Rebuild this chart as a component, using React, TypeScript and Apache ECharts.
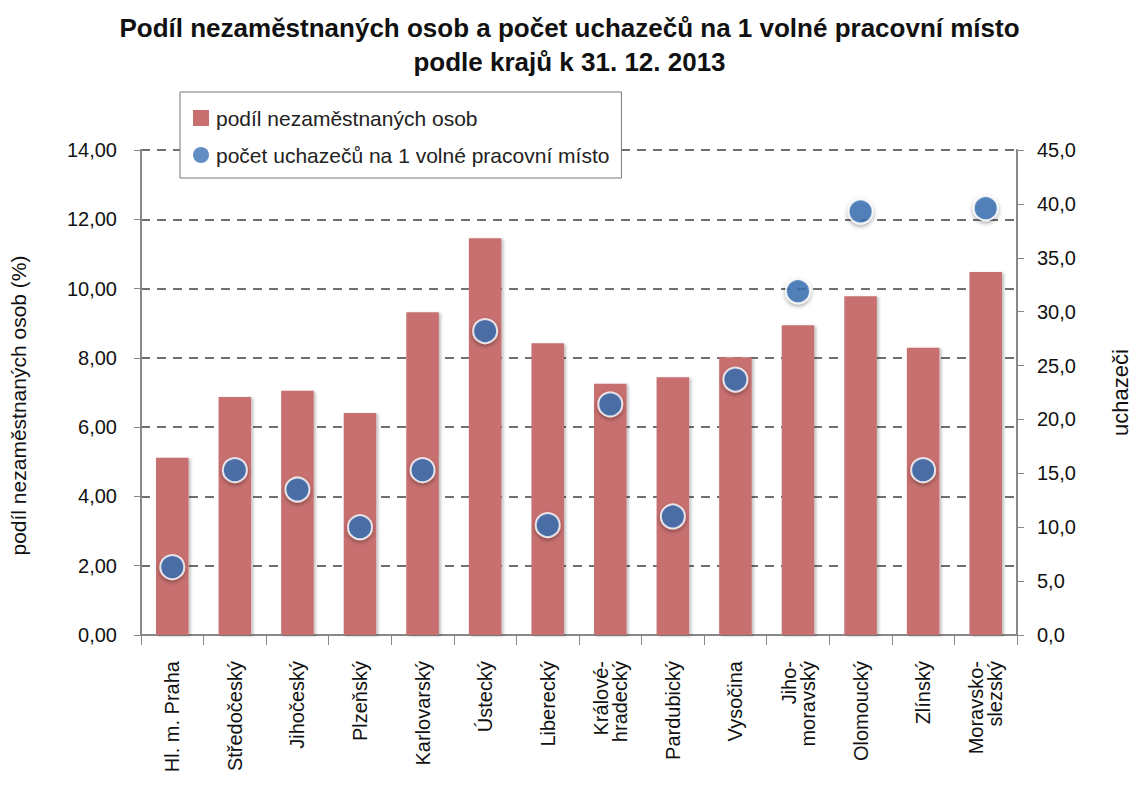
import React, { useEffect, useRef } from "react";
import * as echarts from "echarts";

const categories = [
  "Hl. m. Praha",
  "Středočeský",
  "Jihočeský",
  "Plzeňský",
  "Karlovarský",
  "Ústecký",
  "Liberecký",
  "Králové-\nhradecký",
  "Pardubický",
  "Vysočina",
  "Jiho-\nmoravský",
  "Olomoucký",
  "Zlínský",
  "Moravsko-\nslezský",
];
const unemploymentShare = [5.12, 6.87, 7.05, 6.41, 9.32, 11.45, 8.42, 7.25, 7.44, 8.02, 8.94, 9.78, 8.29, 10.48];
const applicantsPerVacancy = [6.3, 15.3, 13.5, 10.0, 15.3, 28.2, 10.2, 21.4, 11.0, 23.7, 31.9, 39.3, 15.3, 39.6];
const leftTicks = { min: 0, max: 14, interval: 2 };
const rightTicks = { min: 0, max: 45, interval: 5 };

const titleLines = [
  "Podíl nezaměstnaných osob a počet uchazečů na 1 volné pracovní místo",
  "podle krajů k 31. 12. 2013",
];
const seriesNames = ["podíl nezaměstnaných osob", "počet uchazečů na 1 volné pracovní místo"];

const FONT = "'Liberation Sans', Arial, sans-serif";

export default function App() {
  const ref = useRef<HTMLDivElement>(null);
  useEffect(() => {
    document.body.style.margin = "0";
    const chart = echarts.init(ref.current!, null, { renderer: "svg" });
    chart.setOption({
      animation: false,
      backgroundColor: "#ffffff",
      title: {
        text: titleLines.join("\n"),
        left: "center",
        top: 6,
        textStyle: {
          fontFamily: FONT,
          fontWeight: "bold",
          fontSize: 26,
          lineHeight: 34,
          color: "#111",
        },
      },
      legend: {
        orient: "vertical",
        left: 180,
        top: 92,
        itemGap: 13,
        itemWidth: 16,
        itemHeight: 16,
        padding: [14, 12, 11, 13],
        borderColor: "#777",
        borderWidth: 1,
        backgroundColor: "#fff",
        textStyle: { fontFamily: FONT, fontSize: 21, lineHeight: 24, color: "#222", padding: [0, 0, 0, 2] },
        data: [
          { name: seriesNames[0], icon: "rect", itemStyle: { shadowBlur: 0, shadowOffsetX: 0, shadowOffsetY: 0 } },
          { name: seriesNames[1], icon: "circle", itemStyle: { borderWidth: 0, shadowBlur: 0, shadowOffsetY: 0 } },
        ],
      },
      grid: { left: 137, right: 109, top: 150, bottom: 164, containLabel: false },
      xAxis: {
        type: "category",
        data: categories,
        axisLine: { lineStyle: { color: "#888", width: 2 } },
        axisTick: { show: true, length: 10, lineStyle: { color: "#888" }, alignWithLabel: false },
        axisLabel: {
          rotate: 90,
          interval: 0,
          fontFamily: FONT,
          fontSize: 20,
          color: "#111",
          margin: 26,
          lineHeight: 19,
          align: "right",
          verticalAlign: "middle",
        },
      },
      yAxis: [
        {
          type: "value",
          ...leftTicks,
          name: "podíl nezaměstnaných osob (%)",
          nameLocation: "middle",
          nameGap: 112,
          nameRotate: 90,
          nameTextStyle: { fontFamily: FONT, fontSize: 21, color: "#111", padding: [0, 26, 0, 0] },
          axisLine: { show: true, lineStyle: { color: "#888", width: 2 } },
          axisTick: { show: true, length: 7, lineStyle: { color: "#888" } },
          axisLabel: {
            fontFamily: FONT,
            fontSize: 20,
            color: "#111",
            margin: 24,
            formatter: (v: number) => v.toFixed(2).replace(".", ","),
          },
          splitLine: { show: true, lineStyle: { color: "#707070", type: [9, 7], width: 2 } },
        },
        {
          type: "value",
          ...rightTicks,
          name: "uchazeči",
          nameLocation: "middle",
          nameGap: 92,
          nameRotate: 90,
          nameTextStyle: { fontFamily: FONT, fontSize: 22, color: "#111" },
          axisLine: { show: true, lineStyle: { color: "#888", width: 2 } },
          axisTick: { show: true, length: 7, lineStyle: { color: "#888" } },
          axisLabel: {
            fontFamily: FONT,
            fontSize: 20,
            color: "#111",
            margin: 20,
            formatter: (v: number) => v.toFixed(1).replace(".", ","),
          },
          splitLine: { show: false },
        },
      ],
      series: [
        {
          name: seriesNames[0],
          type: "bar",
          yAxisIndex: 0,
          data: unemploymentShare,
          barWidth: "52%",
          itemStyle: {
            color: "#c87070",
            shadowColor: "rgba(0,0,0,0.25)",
            shadowBlur: 3,
            shadowOffsetX: 2,
            shadowOffsetY: 1,
          },
        },
        {
          name: seriesNames[1],
          type: "scatter",
          yAxisIndex: 1,
          data: applicantsPerVacancy,
          symbol: "circle",
          symbolSize: 24,
          itemStyle: {
            color: "#3a70b4",
            borderColor: "#ffffff",
            borderWidth: 2,
            shadowColor: "rgba(0,0,0,0.4)",
            shadowBlur: 4,
            shadowOffsetY: 2,
          },
          z: 5,
        },
      ],
    });
    return () => chart.dispose();
  }, []);
  return <div ref={ref} style={{ width: 1139, height: 799 }} />;
}
